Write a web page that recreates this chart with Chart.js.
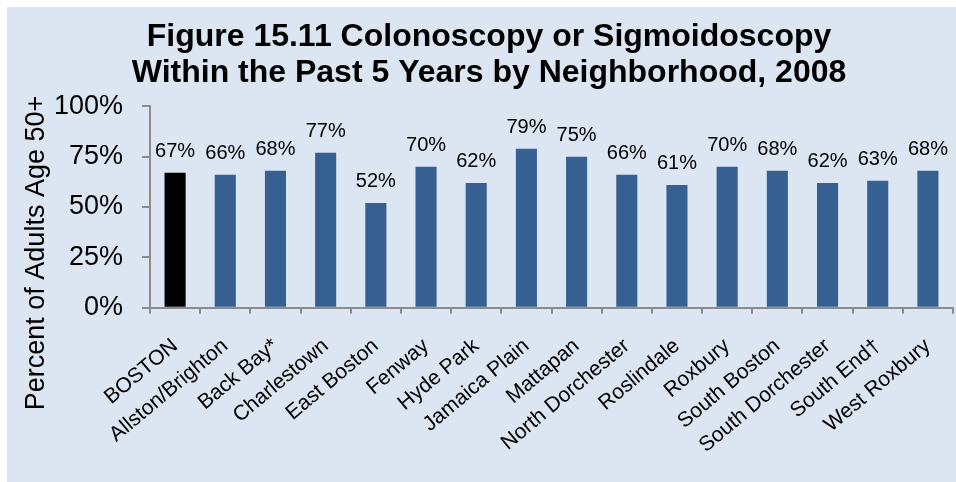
<!DOCTYPE html>
<html>
<head>
<meta charset="utf-8">
<script src="https://cdn.jsdelivr.net/npm/chart.js@4/dist/chart.umd.min.js"></script>
<style>
  html, body { margin: 0; padding: 0; background: #fff; overflow: hidden; }
  #box { position: absolute; left: 7px; top: 7px; width: 964px; height: 475px; background: #dce6f2; }
</style>
</head>
<body>
<div id="box"><canvas id="chart"></canvas></div>
<script>
const neighborhoods = ['BOSTON', 'Allston/Brighton', 'Back Bay*', 'Charlestown', 'East Boston',
  'Fenway', 'Hyde Park', 'Jamaica Plain', 'Mattapan', 'North Dorchester', 'Roslindale',
  'Roxbury', 'South Boston', 'South Dorchester', 'South End\u2020', 'West Roxbury'];
const percentScreened = [67, 66, 68, 77, 52, 70, 62, 79, 75, 66, 61, 70, 68, 62, 63, 68];
const yTickValues = [0, 25, 50, 75, 100];
const yAxisTitle = 'Percent of Adults Age 50+';

const FONT = "'Liberation Sans', Arial, sans-serif";
const AXIS_GREY = '#8c8c8c';

// percent labels over each bar
const barLabels = {
  id: 'barLabels',
  afterDatasetsDraw(chart) {
    const ctx = chart.ctx;
    const meta = chart.getDatasetMeta(0);
    ctx.save();
    ctx.font = '20px ' + FONT;
    ctx.fillStyle = '#000';
    ctx.textAlign = 'center';
    ctx.textBaseline = 'alphabetic';
    meta.data.forEach((bar, i) => {
      ctx.fillText(percentScreened[i] + '%', bar.x, bar.y - 16);
    });
    ctx.restore();
  }
};

// y title sits lower than the plot centre in the original, so draw it by hand
const yTitle = {
  id: 'yTitle',
  afterDraw(chart) {
    const ctx = chart.ctx;
    ctx.save();
    ctx.translate(30, 246);
    ctx.rotate(-Math.PI / 2);
    ctx.font = '27px ' + FONT;
    ctx.fillStyle = '#000';
    ctx.textAlign = 'center';
    ctx.textBaseline = 'middle';
    ctx.fillText(yAxisTitle, 0, 0);
    ctx.restore();
  }
};

new Chart(document.getElementById('chart'), {
  type: 'bar',
  data: {
    labels: neighborhoods,
    datasets: [{
      data: percentScreened,
      backgroundColor: neighborhoods.map((n, i) => i === 0 ? '#000000' : '#366092'),
      barPercentage: 0.42,
      categoryPercentage: 1.0
    }]
  },
  options: {
    responsive: true,
    maintainAspectRatio: false,
    animation: false,
    layout: { padding: { left: 18, right: 18, top: 0, bottom: 4 } },
    plugins: {
      legend: { display: false },
      tooltip: { enabled: false },
      title: {
        display: true,
        text: ['Figure 15.11 Colonoscopy or Sigmoidoscopy', 'Within the Past 5 Years by Neighborhood, 2008'],
        color: '#000',
        font: { family: FONT, size: 32, weight: 'bold', lineHeight: 1.1 },
        padding: { top: 13, bottom: 16 }
      }
    },
    scales: {
      x: {
        grid: { offset: true, drawOnChartArea: false, drawTicks: true, tickLength: 6, color: AXIS_GREY, lineWidth: 2 },
        border: { color: AXIS_GREY, width: 2 },
        ticks: {
          autoSkip: false, maxRotation: 40, minRotation: 40,
          color: '#000', padding: 20,
          font: { family: FONT, size: 21 }
        }
      },
      y: {
        min: 0, max: 100,
        afterBuildTicks(scale) { scale.ticks = yTickValues.map(v => ({ value: v })); },
        afterFit(scale) { scale.width = 125; },
        grid: { drawOnChartArea: false, drawTicks: true, tickLength: 8, color: AXIS_GREY, lineWidth: 2 },
        border: { color: AXIS_GREY, width: 2 },
        ticks: {
          color: '#000', padding: 19,
          font: { family: FONT, size: 27 },
          callback: v => v + '%'
        }
      }
    }
  },
  plugins: [barLabels, yTitle]
});
</script>
</body>
</html>
